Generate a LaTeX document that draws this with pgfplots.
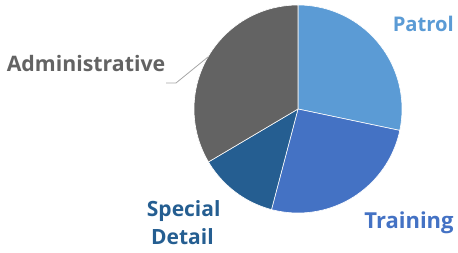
\documentclass[border=0pt]{standalone}
\usepackage{pgfplots}
\pgfplotsset{compat=1.18}
\usepackage{fontspec}
\setmainfont{Open Sans}
\definecolor{cPatrol}{HTML}{5B9BD5}
\definecolor{cTraining}{HTML}{4472C4}
\definecolor{cSpecial}{HTML}{255E91}
\definecolor{cAdmin}{HTML}{636363}
\definecolor{cLeader}{HTML}{A6A6A6}
\tikzset{lbl/.style={font=\fontsize{#1}{25}\selectfont\bfseries, anchor=base, inner sep=0pt}}
% pie shares (percent)
\def\vPatrol{28.3}
\def\vTraining{25.8}
\def\vSpecial{12.4}
\def\vAdmin{33.5}
\begin{document}
\begin{tikzpicture}
\pgfmathsetmacro{\aA}{90}
\pgfmathsetmacro{\aB}{\aA-3.6*\vPatrol}
\pgfmathsetmacro{\aC}{\aB-3.6*\vTraining}
\pgfmathsetmacro{\aD}{\aC-3.6*\vSpecial}
\pgfmathsetmacro{\aE}{\aD-3.6*\vAdmin}
\def\cx{298}\def\cy{143}\def\rr{104}
\begin{axis}[
  hide axis, scale only axis, width=458pt, height=252pt,
  xmin=0, xmax=458, ymin=0, ymax=252, clip=false,
  every axis plot/.append style={draw=white, line width=0.6pt},
]
\addplot[fill=cPatrol, domain=\aB:\aA, samples=80] ({\cx+\rr*cos(x)},{\cy+\rr*sin(x)}) -- (axis cs:\cx,\cy) -- cycle;
\addplot[fill=cTraining, domain=\aC:\aB, samples=80] ({\cx+\rr*cos(x)},{\cy+\rr*sin(x)}) -- (axis cs:\cx,\cy) -- cycle;
\addplot[fill=cSpecial, domain=\aD:\aC, samples=80] ({\cx+\rr*cos(x)},{\cy+\rr*sin(x)}) -- (axis cs:\cx,\cy) -- cycle;
\addplot[fill=cAdmin, domain=\aE:\aD, samples=80] ({\cx+\rr*cos(x)},{\cy+\rr*sin(x)}) -- (axis cs:\cx,\cy) -- cycle;
\addplot[cLeader, line width=0.8pt] coordinates {(166,169) (176,169) (208,195)};
\node[lbl=20.2, text=cPatrol] at (axis cs:423.3,220.3) {Patrol};
\node[lbl=22, text=cTraining] at (axis cs:409,23.7) {Training};
\node[lbl=21, text=cSpecial] at (axis cs:183.7,35.3) {Special};
\node[lbl=21, text=cSpecial] at (axis cs:182.4,7) {Detail};
\node[lbl=21.3, text=cAdmin] at (axis cs:86,180.3) {Administrative};
\end{axis}
\pgfresetboundingbox
\path (0,0) rectangle (458pt,252pt);
\end{tikzpicture}
\end{document}
